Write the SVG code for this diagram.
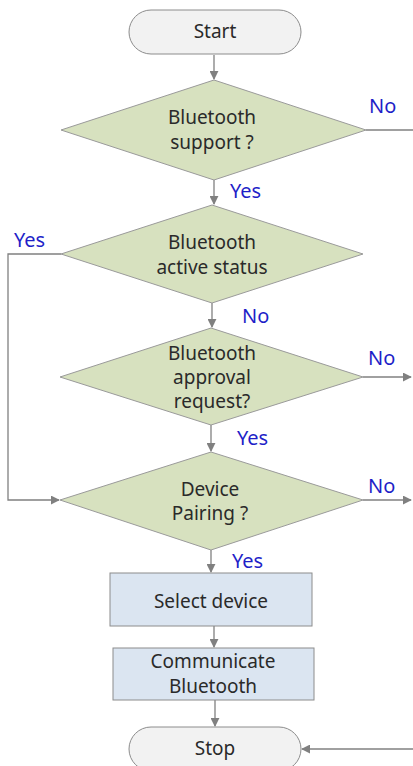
<svg xmlns="http://www.w3.org/2000/svg" width="413" height="766" viewBox="0 0 413 766">
<defs>
<marker id="ah" viewBox="0 0 10 10" refX="9" refY="5" markerWidth="9" markerHeight="9" markerUnits="userSpaceOnUse" orient="auto">
<path d="M0,0 L10,5 L0,10 z" fill="#808080"/>
</marker>
<style>
.term{fill:#f2f2f2;stroke:#8c8c8c;stroke-width:1}
.dec{fill:#d7e1bf;stroke:#9a9a9a;stroke-width:1}
.proc{fill:#dbe5f1;stroke:#8c8c8c;stroke-width:1}
.t{font-family:"Noto Sans","Open Sans","DejaVu Sans",sans-serif;font-size:19px;fill:#2a2a2a;text-anchor:middle}
.lbl{font-family:"Noto Sans","Open Sans","DejaVu Sans",sans-serif;font-size:20px;fill:#1f1fc8}
.c{fill:none;stroke:#808080;stroke-width:1.3}
</style>
</defs>
<g id="connectors">
<line class="c" x1="214" y1="55" x2="214" y2="79" marker-end="url(#ah)"/>
<line class="c" x1="366" y1="130" x2="413" y2="130"/>
<line class="c" x1="214" y1="180" x2="214" y2="204" marker-end="url(#ah)"/>
<polyline class="c" points="61,254 8,254 8,500 59,500" marker-end="url(#ah)"/>
<line class="c" x1="212" y1="303" x2="212" y2="327" marker-end="url(#ah)"/>
<line class="c" x1="363" y1="377" x2="411" y2="377" marker-end="url(#ah)"/>
<line class="c" x1="211" y1="425" x2="211" y2="451" marker-end="url(#ah)"/>
<line class="c" x1="363" y1="500" x2="411" y2="500" marker-end="url(#ah)"/>
<line class="c" x1="211" y1="550" x2="211" y2="572" marker-end="url(#ah)"/>
<line class="c" x1="214" y1="626" x2="214" y2="647" marker-end="url(#ah)"/>
<line class="c" x1="215" y1="700" x2="215" y2="726" marker-end="url(#ah)"/>
<line class="c" x1="413" y1="749" x2="302" y2="749" marker-end="url(#ah)"/>
</g>
<g id="labels">
<text class="lbl" x="369" y="113">No</text>
<text class="lbl" x="230" y="198">Yes</text>
<text class="lbl" x="14" y="247">Yes</text>
<text class="lbl" x="242" y="323">No</text>
<text class="lbl" x="368" y="365">No</text>
<text class="lbl" x="237" y="445">Yes</text>
<text class="lbl" x="368" y="493">No</text>
<text class="lbl" x="232" y="568">Yes</text>
</g>
<g id="start">
<rect class="term" x="129" y="10" width="172" height="44" rx="22" ry="22"/>
<text class="t" x="215" y="38">Start</text>
</g>
<g id="d1">
<polygon class="dec" points="214,80 366,130 214,180 61,130"/>
<text class="t" x="212" y="124">Bluetooth</text>
<text class="t" x="212" y="149">support ?</text>
</g>
<g id="d2">
<polygon class="dec" points="212,205 363,254 212,303 61,254"/>
<text class="t" x="212" y="249">Bluetooth</text>
<text class="t" x="212" y="274">active status</text>
</g>
<g id="d3">
<polygon class="dec" points="211,328 363,377 211,425 60,377"/>
<text class="t" x="212" y="360">Bluetooth</text>
<text class="t" x="212" y="384">approval</text>
<text class="t" x="212" y="408">request?</text>
</g>
<g id="d4">
<polygon class="dec" points="211,452 363,500 211,550 60,500"/>
<text class="t" x="210" y="496">Device</text>
<text class="t" x="210" y="520">Pairing ?</text>
</g>
<g id="select">
<rect class="proc" x="110" y="573" width="202" height="53"/>
<text class="t" x="211" y="608">Select device</text>
</g>
<g id="comm">
<rect class="proc" x="113" y="648" width="201" height="52"/>
<text class="t" x="213" y="668">Communicate</text>
<text class="t" x="213" y="693">Bluetooth</text>
</g>
<g id="stop">
<rect class="term" x="129" y="727" width="172" height="44" rx="22" ry="22"/>
<text class="t" x="215" y="755">Stop</text>
</g>
</svg>
